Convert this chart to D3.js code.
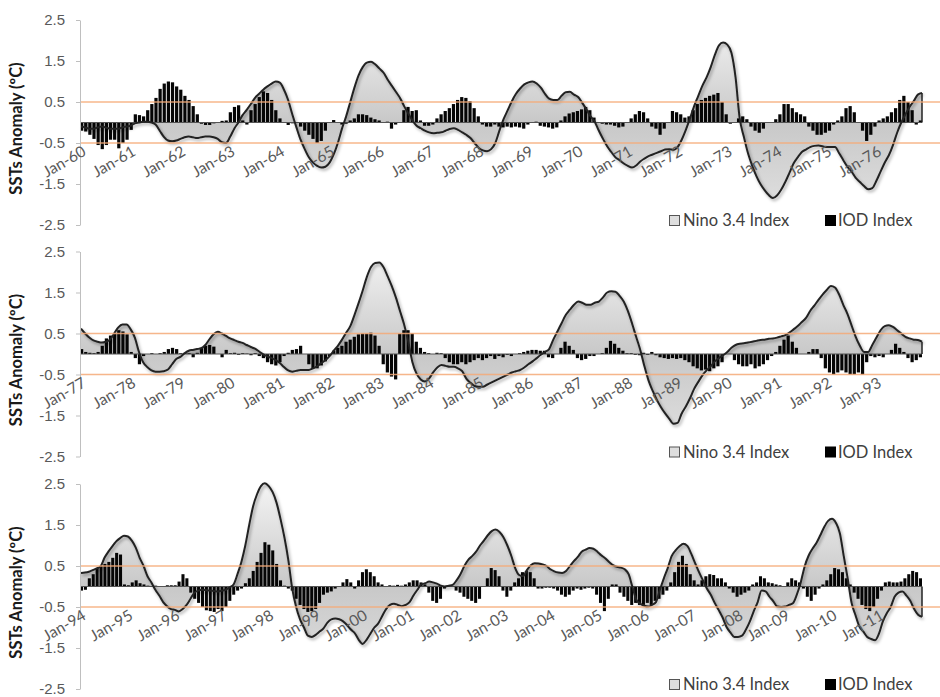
<!DOCTYPE html>
<html>
<head>
<meta charset="utf-8">
<script src="https://cdnjs.cloudflare.com/ajax/libs/d3/7.8.5/d3.min.js"></script>
<style>
  body { margin: 0; background: #fff; }
  svg { display: block; font-family: Lato, "Open Sans", sans-serif; }
</style>
</head>
<body>
<div id="main"></div>
<script>

// y axis ticks and the two threshold lines
var yTicks = [2.5, 1.5, 0.5, -0.5, -1.5, -2.5];
var thresholds = [0.5, -0.5];
var startYears = [1960, 1977, 1994];
var legendNames = ["Nino 3.4 Index", "IOD Index"];

// monthly values, Jan-60 .. Dec-76
var nino6076 = [
  -0.1,-0.12,-0.15,-0.15,-0.12,-0.1,-0.12,-0.15,-0.15,-0.15,-0.12,-0.1,
  -0.08,-0.02,0.0,0.02,0.02,0.0,-0.05,-0.2,-0.35,-0.44,-0.46,-0.44,
  -0.4,-0.36,-0.34,-0.36,-0.38,-0.36,-0.34,-0.34,-0.36,-0.4,-0.48,-0.5,
  -0.35,-0.15,0.0,0.18,0.31,0.45,0.6,0.7,0.8,0.88,0.95,1.0,
  0.97,0.8,0.55,0.2,-0.12,-0.42,-0.65,-0.85,-0.98,-1.06,-1.1,-1.08,
  -0.98,-0.78,-0.5,-0.15,0.15,0.5,0.85,1.15,1.35,1.46,1.48,1.42,
  1.32,1.22,1.05,0.9,0.75,0.6,0.4,0.22,0.05,-0.08,-0.14,-0.2,
  -0.24,-0.26,-0.25,-0.24,-0.2,-0.16,-0.14,-0.18,-0.24,-0.3,-0.38,-0.5,
  -0.62,-0.68,-0.7,-0.65,-0.5,-0.2,0.08,0.3,0.52,0.7,0.83,0.93,
  0.98,1.0,0.95,0.85,0.7,0.58,0.55,0.55,0.65,0.74,0.75,0.68,
  0.62,0.48,0.32,0.15,0.02,-0.2,-0.4,-0.58,-0.72,-0.85,-0.92,-1.0,
  -1.06,-1.1,-1.05,-0.95,-0.88,-0.82,-0.78,-0.74,-0.7,-0.66,-0.65,-0.67,
  -0.6,-0.42,-0.18,0.1,0.4,0.65,0.9,1.1,1.35,1.65,1.88,1.95,
  1.9,1.7,1.1,0.1,-0.35,-0.75,-1.05,-1.3,-1.5,-1.65,-1.77,-1.84,
  -1.78,-1.64,-1.45,-1.23,-1.0,-0.85,-0.72,-0.66,-0.6,-0.57,-0.56,-0.58,
  -0.6,-0.6,-0.6,-0.75,-0.92,-1.08,-1.2,-1.35,-1.45,-1.55,-1.63,-1.6,
  -1.42,-1.2,-0.98,-0.8,-0.55,-0.25,0.0,0.2,0.38,0.52,0.68,0.72
];
var iod6076 = [
  -0.2,-0.22,-0.3,-0.4,-0.55,-0.65,-0.55,-0.42,-0.42,-0.63,-0.5,-0.42,
  -0.18,0.2,0.18,0.15,0.3,0.45,0.6,0.82,0.95,1.0,0.98,0.88,
  0.8,0.65,0.55,0.4,0.2,-0.03,-0.06,-0.06,-0.02,0.0,0.04,0.05,
  0.25,0.38,0.42,0.05,-0.05,0.3,0.45,0.62,0.76,0.72,0.55,0.3,
  0.1,0.0,-0.06,-0.02,0.0,-0.1,-0.2,-0.3,-0.4,-0.5,-0.45,-0.2,
  0.0,0.06,0.0,-0.05,-0.03,0.05,0.1,0.2,0.2,0.18,0.12,0.08,
  0.05,0.0,0.02,-0.15,-0.05,0.0,0.3,0.38,0.28,0.3,0.05,-0.08,
  -0.08,-0.05,0.1,0.2,0.28,0.35,0.45,0.55,0.62,0.6,0.52,0.35,
  0.15,-0.05,-0.1,-0.1,-0.05,-0.1,-0.12,-0.1,-0.12,-0.1,-0.12,-0.15,
  -0.05,0.0,0.02,-0.08,-0.1,-0.12,-0.15,-0.12,0.05,0.15,0.22,0.25,
  0.28,0.32,0.38,0.3,0.12,0.0,-0.03,-0.05,-0.05,-0.08,-0.12,-0.1,
  0.0,0.1,0.2,0.28,0.25,0.1,-0.1,-0.15,-0.3,-0.15,0.0,0.28,
  0.25,0.2,0.12,0.15,0.3,0.45,0.55,0.6,0.65,0.68,0.72,0.5,
  0.2,-0.03,0.0,0.1,0.15,0.08,-0.1,-0.2,-0.25,-0.15,0.0,0.0,
  0.08,0.2,0.45,0.45,0.35,0.25,0.2,0.15,-0.1,-0.2,-0.3,-0.3,
  -0.25,-0.2,-0.05,0.05,0.15,0.35,0.4,0.25,0.0,-0.2,-0.45,-0.3,
  -0.1,0.05,0.1,0.15,0.25,0.35,0.55,0.65,0.5,0.3,-0.05,0.05
];

// Jan-77 .. Dec-93
var nino7793 = [
  0.62,0.5,0.4,0.33,0.3,0.28,0.3,0.35,0.5,0.65,0.72,0.72,
  0.6,0.4,0.05,-0.2,-0.32,-0.4,-0.43,-0.43,-0.42,-0.38,-0.25,-0.12,
  -0.07,0.02,0.08,0.1,0.12,0.14,0.22,0.36,0.48,0.54,0.5,0.44,
  0.38,0.34,0.3,0.27,0.22,0.17,0.13,0.06,-0.01,-0.06,-0.1,-0.15,
  -0.22,-0.32,-0.4,-0.43,-0.41,-0.39,-0.39,-0.39,-0.35,-0.3,-0.22,-0.15,
  -0.05,0.08,0.2,0.35,0.52,0.68,0.95,1.24,1.55,1.88,2.12,2.22,
  2.23,2.12,1.9,1.66,1.38,1.05,0.72,0.3,-0.2,-0.48,-0.62,-0.67,
  -0.6,-0.45,-0.33,-0.27,-0.29,-0.31,-0.31,-0.35,-0.42,-0.6,-0.7,-0.78,
  -0.8,-0.8,-0.75,-0.7,-0.65,-0.6,-0.55,-0.5,-0.45,-0.42,-0.39,-0.33,
  -0.25,-0.18,-0.1,-0.02,0.05,0.12,0.35,0.55,0.75,0.95,1.08,1.2,
  1.28,1.25,1.2,1.2,1.25,1.28,1.38,1.5,1.53,1.52,1.42,1.28,
  1.05,0.75,0.42,0.1,-0.3,-0.65,-0.9,-1.12,-1.3,-1.45,-1.58,-1.7,
  -1.68,-1.45,-1.28,-1.08,-0.85,-0.68,-0.52,-0.4,-0.3,-0.18,-0.1,-0.03,
  0.05,0.15,0.22,0.25,0.26,0.28,0.3,0.32,0.34,0.35,0.37,0.38,
  0.4,0.43,0.46,0.52,0.6,0.68,0.78,0.88,1.05,1.18,1.32,1.45,
  1.56,1.66,1.62,1.45,1.2,0.98,0.7,0.42,0.2,0.05,0.05,0.22,
  0.4,0.58,0.68,0.7,0.66,0.58,0.5,0.42,0.38,0.35,0.34,0.3
];
var iod7793 = [
  0.12,0.05,0.03,0.02,0.05,0.2,0.38,0.45,0.5,0.58,0.55,0.48,
  0.05,-0.1,-0.25,-0.05,0.0,0.02,0.0,0.02,0.05,0.12,0.15,0.12,
  0.02,0.03,0.02,-0.08,0.03,0.15,0.2,0.22,0.18,0.0,-0.08,0.1,
  0.02,0.03,-0.02,0.02,0.01,-0.03,0.02,-0.05,-0.1,-0.2,-0.25,-0.28,
  -0.2,-0.05,0.03,0.1,0.12,0.2,0.0,-0.25,-0.35,-0.35,-0.28,-0.18,
  -0.05,0.08,0.15,0.2,0.3,0.35,0.42,0.48,0.5,0.5,0.52,0.45,
  0.2,-0.25,-0.45,-0.55,-0.62,0.5,0.58,0.58,0.5,0.3,0.15,0.05,
  0.02,0.0,0.03,0.02,-0.1,-0.2,-0.25,-0.25,-0.2,-0.25,-0.2,-0.15,
  -0.1,-0.15,-0.1,-0.05,-0.12,-0.05,-0.08,-0.02,-0.05,0.0,0.02,0.05,
  0.08,0.1,0.1,0.08,0.08,-0.08,-0.1,0.0,0.15,0.3,0.2,0.1,
  -0.1,-0.15,-0.12,-0.05,-0.05,0.0,0.02,0.15,0.32,0.25,0.15,0.08,
  0.02,0.02,-0.02,-0.03,0.03,-0.02,0.05,-0.03,-0.08,-0.1,-0.12,-0.1,
  -0.12,-0.1,-0.15,-0.2,-0.3,-0.35,-0.4,-0.38,-0.42,-0.35,-0.3,-0.2,
  0.0,0.0,-0.15,-0.25,-0.3,-0.3,-0.25,-0.35,-0.3,-0.25,-0.15,-0.05,
  0.05,0.2,0.35,0.45,0.3,0.15,0.0,0.0,0.05,0.12,0.12,-0.1,
  -0.35,-0.45,-0.5,-0.45,-0.4,-0.45,-0.5,-0.5,-0.45,-0.5,-0.2,-0.05,
  -0.08,-0.05,-0.08,0.0,0.1,0.25,0.15,0.05,-0.1,-0.2,-0.15,-0.08
];

// Jan-94 .. Dec-11
var nino9411 = [
  0.33,0.34,0.36,0.4,0.44,0.49,0.7,0.85,0.98,1.1,1.18,1.24,
  1.22,1.12,0.95,0.7,0.5,0.25,0.1,-0.08,-0.22,-0.38,-0.48,-0.55,
  -0.57,-0.61,-0.55,-0.45,-0.3,-0.15,-0.1,-0.08,-0.09,-0.1,-0.11,-0.12,
  -0.1,-0.08,-0.02,0.05,0.3,0.6,1.0,1.5,1.96,2.25,2.45,2.52,
  2.45,2.3,2.04,1.65,1.2,0.65,-0.05,-0.5,-0.8,-1.0,-1.2,-1.23,
  -1.18,-1.1,-1.02,-0.88,-0.8,-0.78,-0.8,-0.85,-0.94,-1.05,-1.14,-1.3,
  -1.4,-1.3,-1.15,-1.0,-0.9,-0.72,-0.55,-0.45,-0.42,-0.45,-0.48,-0.45,
  -0.38,-0.22,-0.08,0.05,0.08,0.12,0.1,0.07,0.02,0.0,0.02,0.04,
  0.15,0.3,0.5,0.65,0.74,0.85,1.0,1.12,1.25,1.35,1.39,1.33,
  1.2,1.0,0.75,0.45,0.28,0.25,0.4,0.52,0.57,0.56,0.54,0.5,
  0.42,0.37,0.34,0.33,0.38,0.5,0.62,0.72,0.85,0.9,0.94,0.92,
  0.85,0.76,0.69,0.6,0.52,0.48,0.46,0.42,0.3,-0.02,-0.33,-0.42,
  -0.47,-0.49,-0.45,-0.38,-0.08,0.2,0.45,0.74,0.88,0.98,1.04,0.99,
  0.8,0.57,0.35,0.15,-0.05,-0.2,-0.4,-0.57,-0.75,-0.98,-1.12,-1.23,
  -1.23,-1.2,-1.05,-0.85,-0.6,-0.38,-0.1,-0.12,-0.25,-0.36,-0.49,-0.5,
  -0.49,-0.45,-0.41,-0.2,0.1,0.49,0.75,0.92,1.06,1.25,1.45,1.6,
  1.65,1.55,1.3,0.74,0.2,-0.4,-0.7,-0.98,-1.1,-1.23,-1.28,-1.31,
  -1.15,-0.85,-0.65,-0.5,-0.25,-0.15,-0.12,-0.22,-0.35,-0.55,-0.69,-0.74
];
var iod9411 = [
  -0.1,-0.08,0.2,0.3,0.45,0.5,0.55,0.6,0.7,0.82,0.78,0.05,
  0.03,0.1,0.15,0.08,0.05,0.02,0.0,0.02,0.0,0.0,0.03,0.03,
  0.03,0.12,0.3,0.2,-0.15,-0.3,-0.4,-0.5,-0.58,-0.6,-0.62,-0.55,
  -0.6,-0.5,-0.35,-0.2,-0.1,-0.05,0.08,0.2,0.38,0.6,0.82,1.08,
  1.02,0.88,0.55,0.15,0.02,-0.05,-0.1,-0.3,-0.45,-0.55,-0.62,-0.6,
  -0.55,-0.4,-0.2,-0.15,-0.12,-0.05,0.0,0.1,0.18,0.1,-0.05,0.15,
  0.35,0.42,0.35,0.25,0.1,0.05,0.0,0.03,0.02,0.04,0.02,0.05,
  0.1,0.15,0.15,0.1,0.05,-0.15,-0.35,-0.4,-0.3,-0.05,0.0,0.0,
  -0.1,-0.15,-0.25,-0.3,-0.35,-0.4,-0.3,0.0,0.2,0.45,0.4,0.25,
  -0.1,-0.25,-0.1,0.1,0.2,0.35,0.38,0.35,0.2,-0.05,-0.05,-0.03,
  -0.03,-0.05,-0.1,-0.2,-0.25,-0.2,-0.1,-0.05,-0.08,-0.05,-0.03,-0.05,
  -0.2,-0.4,-0.6,-0.3,0.05,0.05,-0.15,-0.25,-0.35,-0.45,-0.4,-0.45,
  -0.45,-0.4,-0.45,-0.35,-0.3,-0.2,-0.1,0.1,0.35,0.6,0.75,0.55,
  0.3,0.15,0.05,0.15,0.25,0.3,0.28,0.2,0.2,0.1,-0.05,-0.15,
  -0.25,-0.2,-0.15,-0.1,0.05,0.1,0.25,0.2,0.1,0.08,0.05,0.03,
  0.0,0.1,0.2,0.15,0.1,-0.05,-0.25,-0.35,-0.2,-0.05,0.05,0.15,
  0.3,0.45,0.42,0.35,0.2,0.05,-0.15,-0.3,-0.45,-0.55,-0.6,-0.5,
  -0.3,-0.1,0.1,0.12,0.1,0.1,0.12,0.2,0.3,0.38,0.35,0.2
];

var ninoSeries = [nino6076, nino7793, nino9411];
var iodSeries = [iod6076, iod7793, iod9411];

var chart = new Object;

chart.width = 940 ;
chart.height = 697 ;
chart.left = 80 ;
chart.right = 922 ;
chart.tops = [20, 251.5, 484] ;
chart.panelH = 205 ;

var fmtMonth = d3.timeFormat("%b-%y");

chart.create = function() {
  this.svg = d3.select("#main")
    .append("svg")
    .attr("width", this.width)
    .attr("height", this.height);

  var defs = this.svg.append("defs");
  var sh = defs.append("filter").attr("id", "shadow")
    .attr("x", "-5%").attr("y", "-10%").attr("width", "110%").attr("height", "120%");
  sh.append("feDropShadow")
    .attr("dx", 1.5).attr("dy", 2).attr("stdDeviation", 1.5)
    .attr("flood-color", "#000").attr("flood-opacity", 0.35);

  for (var p = 0; p < 3; p++) {
    this.panel(p, defs);
  }
};

chart.panel = function(p, defs) {
  var nino = ninoSeries[p];
  var iod = iodSeries[p];
  var n = nino.length;
  var h = this.panelH;

  var g = this.svg.append("g")
    .attr("transform", "translate(0," + this.tops[p] + ")");

  var y = d3.scaleLinear().domain([-2.5, 2.5]).range([h, 0]);
  var xb = d3.scaleBand().domain(d3.range(n))
    .range([this.left, this.right]).paddingInner(0.22);
  var x = d3.scaleLinear().domain([0, n - 1])
    .range([this.left + 1, this.right]);

  var grad = defs.append("linearGradient")
    .attr("id", "fill" + p)
    .attr("gradientUnits", "userSpaceOnUse")
    .attr("x1", 0).attr("y1", y(2.5)).attr("x2", 0).attr("y2", y(-2.5));
  grad.append("stop").attr("offset", "0%").attr("stop-color", "#f4f4f4");
  grad.append("stop").attr("offset", "50%").attr("stop-color", "#c8c8c8");
  grad.append("stop").attr("offset", "100%").attr("stop-color", "#e4e4e4");

  // nino area
  var area = d3.area()
    .x(function(d, i) { return x(i); })
    .y0(y(0))
    .y1(function(d) { return y(d); })
    .curve(d3.curveMonotoneX);

  g.append("path")
    .datum(nino)
    .attr("d", area)
    .attr("fill", "url(#fill" + p + ")");

  // iod bars
  g.selectAll("rect.iod")
    .data(iod)
    .enter()
    .append("rect")
    .attr("class", "iod")
    .attr("x", function(d, i) { return xb(i); })
    .attr("width", xb.bandwidth())
    .attr("y", function(d) { return y(Math.max(0, d)); })
    .attr("height", function(d) { return Math.abs(y(d) - y(0)); })
    .attr("fill", "#050505");

  // zero axis
  g.append("line")
    .attr("x1", this.left).attr("x2", this.right)
    .attr("y1", y(0)).attr("y2", y(0))
    .attr("stroke", "#555").attr("stroke-width", 1.2);

  // nino outline
  var line = d3.line()
    .x(function(d, i) { return x(i); })
    .y(function(d) { return y(d); })
    .curve(d3.curveMonotoneX);

  g.append("path")
    .datum(nino)
    .attr("d", line)
    .attr("fill", "none")
    .attr("stroke", "#222")
    .attr("stroke-width", 2)
    .attr("stroke-linejoin", "round")
    .attr("filter", "url(#shadow)");

  // closing edge of the area at the end
  g.append("line")
    .attr("x1", x(n - 1)).attr("x2", x(n - 1))
    .attr("y1", y(nino[n - 1])).attr("y2", y(0))
    .attr("stroke", "#222").attr("stroke-width", 1.5);

  // threshold lines
  g.selectAll("line.thr")
    .data(thresholds)
    .enter()
    .append("line")
    .attr("class", "thr")
    .attr("x1", this.left).attr("x2", 940)
    .attr("y1", function(d) { return y(d); })
    .attr("y2", function(d) { return y(d); })
    .attr("stroke", "#f4a977")
    .attr("stroke-opacity", 0.85)
    .attr("stroke-width", 1.6);

  // y axis
  var ax = g.append("g")
    .attr("transform", "translate(" + this.left + ",0)")
    .call(d3.axisLeft(y)
      .tickValues(yTicks)
      .tickSize(4)
      .tickSizeOuter(0)
      .tickPadding(11)
      .tickFormat(function(d) { return d.toFixed(1); }));
  ax.select(".domain").attr("stroke", "#bfbfbf");
  ax.selectAll(".tick line").attr("stroke", "#bfbfbf");
  ax.selectAll(".tick text")
    .attr("fill", "#595959")
    .style("font-size", "15px");

  // month labels, one per January
  var years = d3.range(startYears[p], startYears[p] + Math.ceil(n / 12));
  g.selectAll("text.mon")
    .data(years)
    .enter()
    .append("text")
    .attr("class", "mon")
    .attr("text-anchor", "end")
    .attr("transform", function(d, k) {
      return "translate(" + (x(k * 12) + 6) + "," + (y(0) + 32) + ") rotate(-30)";
    })
    .attr("fill", "#595959")
    .style("font-size", "15.5px")
    .text(function(d) { return fmtMonth(new Date(d, 0, 1)); });

  // axis title
  g.append("text")
    .attr("transform", "translate(22," + (h / 2 + 6) + ") rotate(-90)")
    .attr("text-anchor", "middle")
    .attr("fill", "#1a1a1a")
    .style("font-size", "16.5px")
    .style("font-weight", "bold")
    .text("SSTs Anomaly (ºC)");

  // legend
  var lg = g.append("g").attr("transform", "translate(669," + (h - 10) + ")");
  lg.append("rect")
    .attr("x", 0.5).attr("y", 0.5).attr("width", 10).attr("height", 10)
    .attr("fill", "#dedede").attr("stroke", "#555");
  lg.append("text")
    .attr("x", 14).attr("y", 11)
    .attr("fill", "#404040").style("font-size", "16.5px")
    .text(legendNames[0]);
  lg.append("rect")
    .attr("x", 156).attr("y", 0).attr("width", 11).attr("height", 11)
    .attr("fill", "#000");
  lg.append("text")
    .attr("x", 169).attr("y", 11)
    .attr("fill", "#404040").style("font-size", "16.5px")
    .text(legendNames[1]);
};

chart.create();

</script>
</body>
</html>
